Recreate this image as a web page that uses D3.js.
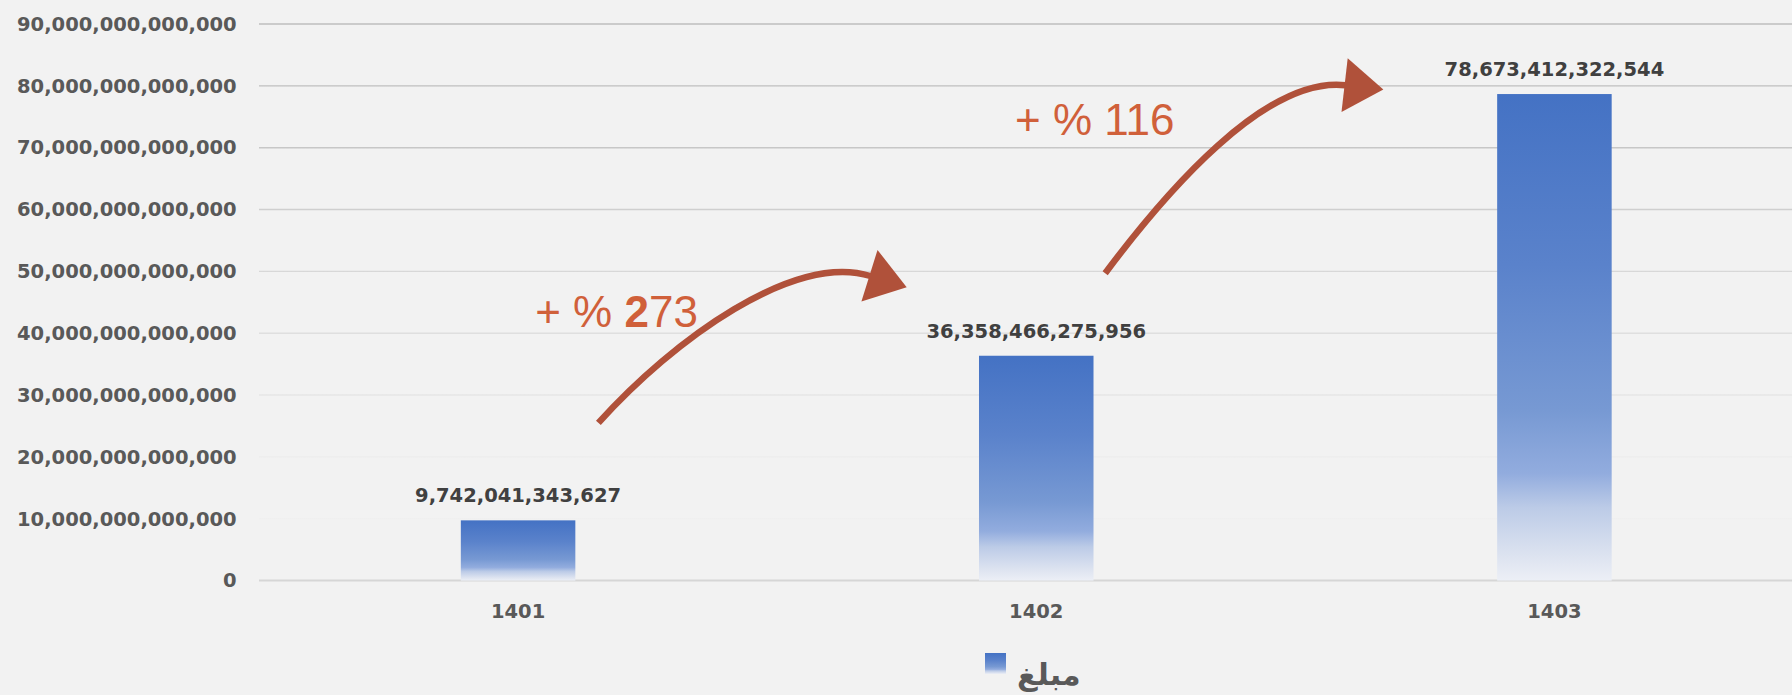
<!DOCTYPE html>
<html>
<head>
<meta charset="utf-8">
<script src="https://cdn.jsdelivr.net/npm/d3@7"></script>
<style>
  html, body { margin: 0; padding: 0; background: #f2f2f2; overflow: hidden; }
  svg { display: block; font-family: 'DejaVu Sans', sans-serif; }
  .tick-label { font-size: 19.5px; font-weight: bold; fill: #595959; }
  .value-label { font-size: 19.5px; font-weight: bold; fill: #404040; }
  .growth-label { font-family: 'Liberation Sans', Arial, sans-serif; font-size: 44px; fill: #d0603a; }
  .legend-label { font-size: 30px; font-weight: bold; fill: #595959; }
</style>
</head>
<body>
<svg id="chart"></svg>
<script>
var years = ['1401', '1402', '1403'];
var amounts = [9742041343627, 36358466275956, 78673412322544];
var y_ticks = [0, 10e12, 20e12, 30e12, 40e12, 50e12, 60e12, 70e12, 80e12, 90e12];
var series_name = 'مبلغ';

// growth annotations between bars: label text, which char is bold,
// and curve points as [category offset, value]
var growth_pct = ['273', '116'];
var growth_bold = [1, 0];
var growth_label_pos = [[0.033, 41.0e12], [0.959, 72.05e12]];
var growth_curves = [
  [[0.155, 25.5e12], [0.300, 39.0e12], [0.533, 53.1e12], [0.680, 49.25e12]],
  [[1.133, 49.7e12], [1.249, 62.7e12], [1.442, 81.6e12], [1.597, 80.1e12]]
];

var page_w = 1792,
    page_h = 695,
    margin = {top: 24, left: 259, bottom: 114.4},
    plot_right = 1813.5;

var fmt = d3.format(',.0f');

var svg = d3.select('#chart')
  .attr('width', page_w)
  .attr('height', page_h);

var x = d3.scaleBand()
  .domain(years)
  .range([margin.left, plot_right])
  .paddingInner(0.779)
  .paddingOuter(0.3895);

var y = d3.scaleLinear()
  .domain([0, 90e12])
  .range([page_h - margin.bottom, margin.top]);

// category position with a fractional offset (for the annotations)
function px(i) { return x(years[0]) + x.bandwidth() / 2 + i * x.step(); }

var defs = svg.append('defs');

var bar_grad = defs.append('linearGradient')
  .attr('id', 'bar-grad')
  .attr('x1', 0).attr('y1', 0).attr('x2', 0).attr('y2', 1);
[[0, '#4472c4'], [0.35, '#5a82cb'], [0.65, '#7799d3'], [0.78, '#92acde'],
 [0.85, '#bccbe7'], [0.95, '#dde3f0'], [1, '#eceff6']].forEach(function(s) {
  bar_grad.append('stop').attr('offset', s[0]).attr('stop-color', s[1]);
});

var grid_grad = defs.append('linearGradient')
  .attr('id', 'grid-grad')
  .attr('gradientUnits', 'userSpaceOnUse')
  .attr('x1', 0).attr('y1', y(90e12)).attr('x2', 0).attr('y2', y(0));
[[0, '#bebebe'], [0.12, '#bfbfbf'], [0.45, '#d8d8d8'], [0.78, '#ededed'], [1, '#f2f2f2']].forEach(function(s) {
  grid_grad.append('stop').attr('offset', s[0]).attr('stop-color', s[1]);
});

defs.append('marker')
  .attr('id', 'arrow-head')
  .attr('markerUnits', 'userSpaceOnUse')
  .attr('viewBox', '-2 -30 44 60')
  .attr('refX', 1)
  .attr('refY', 0)
  .attr('markerWidth', 44)
  .attr('markerHeight', 60)
  .attr('orient', 'auto')
  .append('path')
  .attr('d', 'M0,-27 L39,0 L0,27 Z')
  .attr('fill', '#b0513a');

// gridlines
svg.append('g')
  .selectAll('line')
  .data(y_ticks.filter(function(d) { return d > 0; }))
  .enter()
  .append('line')
  .attr('x1', margin.left)
  .attr('x2', page_w)
  .attr('y1', function(d) { return y(d); })
  .attr('y2', function(d) { return y(d); })
  .attr('stroke', 'url(#grid-grad)')
  .attr('stroke-width', 1.4);

svg.append('line')
  .attr('x1', margin.left)
  .attr('x2', page_w)
  .attr('y1', y(0))
  .attr('y2', y(0))
  .attr('stroke', '#d6d6d6')
  .attr('stroke-width', 2);

// axes
var y_axis = svg.append('g')
  .attr('transform', 'translate(' + margin.left + ',0)')
  .call(d3.axisLeft(y).tickValues(y_ticks).tickFormat(fmt).tickSize(0).tickPadding(22.4));
y_axis.select('.domain').remove();
y_axis.selectAll('text').attr('class', 'tick-label').attr('fill', null);
y_axis.attr('font-family', null).attr('font-size', null);

var x_axis = svg.append('g')
  .attr('transform', 'translate(0,' + y(0) + ')')
  .call(d3.axisBottom(x).tickSize(0).tickPadding(24));
x_axis.select('.domain').remove();
x_axis.selectAll('text').attr('class', 'tick-label').attr('fill', null);
x_axis.attr('font-family', null).attr('font-size', null);

// bars
var rows = years.map(function(d, i) { return {year: d, amount: amounts[i]}; });

svg.append('g')
  .selectAll('rect')
  .data(rows)
  .enter()
  .append('rect')
  .attr('x', function(d) { return x(d.year); })
  .attr('y', function(d) { return y(d.amount); })
  .attr('width', x.bandwidth())
  .attr('height', function(d) { return y(0) - y(d.amount); })
  .attr('fill', 'url(#bar-grad)');

svg.append('g')
  .selectAll('text')
  .data(rows)
  .enter()
  .append('text')
  .attr('class', 'value-label')
  .attr('text-anchor', 'middle')
  .attr('x', function(d) { return x(d.year) + x.bandwidth() / 2; })
  .attr('y', function(d) { return y(d.amount) - 18; })
  .text(function(d) { return fmt(d.amount); });

// growth arrows
growth_curves.forEach(function(c) {
  var p = c.map(function(q) { return [px(q[0]), y(q[1])]; });
  svg.append('path')
    .attr('d', 'M' + p[0] + ' C' + p[1] + ' ' + p[2] + ' ' + p[3])
    .attr('fill', 'none')
    .attr('stroke', '#b0513a')
    .attr('stroke-width', 6.5)
    .attr('marker-end', 'url(#arrow-head)');
});

growth_pct.forEach(function(pct, i) {
  var t = svg.append('text')
    .attr('class', 'growth-label')
    .attr('x', px(growth_label_pos[i][0]))
    .attr('y', y(growth_label_pos[i][1]));
  t.append('tspan').text('+ % ');
  var nb = growth_bold[i];
  if (nb > 0) t.append('tspan').attr('font-weight', 'bold').text(pct.slice(0, nb));
  t.append('tspan').text(pct.slice(nb));
});

// legend
var legend = svg.append('g')
  .attr('transform', 'translate(' + (page_w / 2 + 89) + ',653)');

legend.append('rect')
  .attr('width', 21)
  .attr('height', 21)
  .attr('fill', 'url(#bar-grad)');

legend.append('text')
  .attr('class', 'legend-label')
  .attr('x', 32)
  .attr('y', 32)
  .text(series_name);
</script>
</body>
</html>
